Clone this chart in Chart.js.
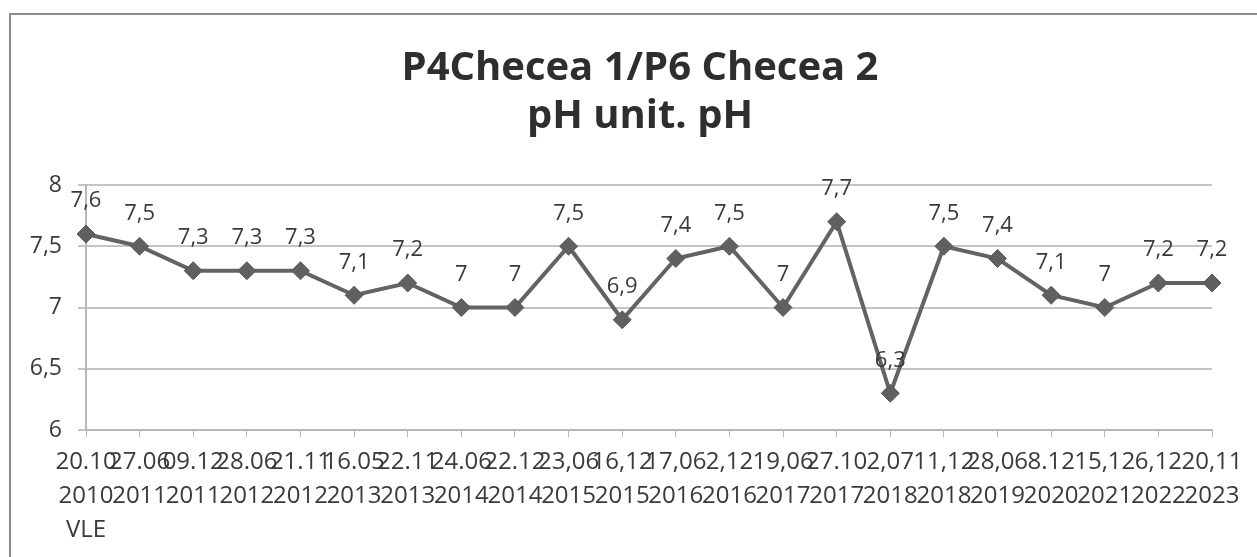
<!DOCTYPE html>
<html>
<head>
<meta charset="utf-8">
<script src="https://cdn.jsdelivr.net/npm/chart.js@4"></script>
<style>
  html, body { margin: 0; padding: 0; background: #fff; }
  #wrap { width: 1257px; height: 557px; }
</style>
</head>
<body>
<div id="wrap"><canvas id="phChart" width="1257" height="557"></canvas></div>
<script>
// date labels (day.month / year), as written on the sheet
const dayMonth = ["20.10", "27.06", "09.12", "28.06", "21.11", "16.05", "22.11", "24.06", "22.12", "23,06", "16,12",
  "17,06", "2,12", "19,06", "27.10", "2,07", "11,12", "28,06", "8.12", "15,12", "6,12", "20,11"];
const years = ["2010", "2011", "2011", "2012", "2012", "2013", "2013", "2014", "2014", "2015", "2015",
  "2016", "2016", "2017", "2017", "2018", "2018", "2019", "2020", "2021", "2022", "2023"];
const firstNote = "VLE";

const phValues = [7.6, 7.5, 7.3, 7.3, 7.3, 7.1, 7.2, 7, 7, 7.5, 6.9, 7.4, 7.5, 7, 7.7, 6.3, 7.5, 7.4, 7.1, 7, 7.2, 7.2];

const yTicks = [6, 6.5, 7, 7.5, 8];
const titleLines = ["P4Checea 1/P6 Checea 2", "pH unit. pH"];

const labels = dayMonth.map((d, i) => i === 0 ? [d, years[i], firstNote] : [d, years[i]]);

const fmt = v => String(v).replace(".", ",");

// white page, frame lines and the two-line title (centred on the page, not the plot)
const frame = {
  id: "frame",
  beforeDraw(chart) {
    const c = chart.ctx;
    c.save();
    c.fillStyle = "#fff";
    c.fillRect(0, 0, chart.width, chart.height);
    c.strokeStyle = "#8a8a8a";
    c.lineWidth = 2;
    c.beginPath();
    c.moveTo(10, chart.height);
    c.lineTo(10, 14);
    c.lineTo(chart.width, 14);
    c.stroke();

    c.fillStyle = "#2e2e2e";
    c.font = "bold 40px 'Open Sans'";
    c.textAlign = "center";
    c.textBaseline = "alphabetic";
    c.fillText(titleLines[0], 640, 80);
    c.fillText(titleLines[1], 640, 128);
    c.restore();
  }
};

// value labels above points
const pointLabels = {
  id: "pointLabels",
  afterDatasetsDraw(chart) {
    const c = chart.ctx;
    const meta = chart.getDatasetMeta(0);
    c.save();
    c.font = "22px 'Open Sans'";
    c.fillStyle = "#3a3a3a";
    c.textAlign = "center";
    c.textBaseline = "middle";
    meta.data.forEach((pt, i) => {
      c.fillText(fmt(phValues[i]), pt.x, pt.y - 33);
    });
    c.restore();
  }
};

const ctx = document.getElementById("phChart").getContext("2d");

new Chart(ctx, {
  type: "line",
  data: {
    labels,
    datasets: [{
      data: phValues,
      borderColor: "#636363",
      backgroundColor: "#606060",
      borderWidth: 4,
      pointStyle: "rectRot",
      pointRadius: 9,
      pointBorderWidth: 1,
      pointBorderColor: "#5a5a5a",
      tension: 0
    }]
  },
  options: {
    responsive: false,
    animation: false,
    layout: { padding: { left: 0, right: 45, top: 185, bottom: 0 } },
    plugins: {
      legend: { display: false },
      tooltip: { enabled: false },
      title: { display: false }
    },
    scales: {
      x: {
        offset: false,
        grid: { drawOnChartArea: false, drawTicks: true, tickLength: 7, color: "#b8b8b8" },
        border: { color: "#b8b8b8", width: 2 },
        ticks: {
          autoSkip: false,
          maxRotation: 0,
          minRotation: 0,
          padding: 8,
          color: "#3a3a3a",
          font: { family: "'Open Sans'", size: 24, lineHeight: 1.42 }
        },
        afterFit(scale) { scale.height = 127; }
      },
      y: {
        min: 6,
        max: 8,
        afterBuildTicks(scale) { scale.ticks = yTicks.map(v => ({ value: v })); },
        grid: { color: "#c4c4c4", lineWidth: 2, tickLength: 8 },
        border: { color: "#b8b8b8", width: 2 },
        ticks: {
          padding: 16,
          color: "#3a3a3a",
          font: { family: "'Open Sans'", size: 23 },
          callback: v => fmt(v)
        },
        afterFit(scale) { scale.width = 86; }
      }
    }
  },
  plugins: [frame, pointLabels]
});
</script>
</body>
</html>
